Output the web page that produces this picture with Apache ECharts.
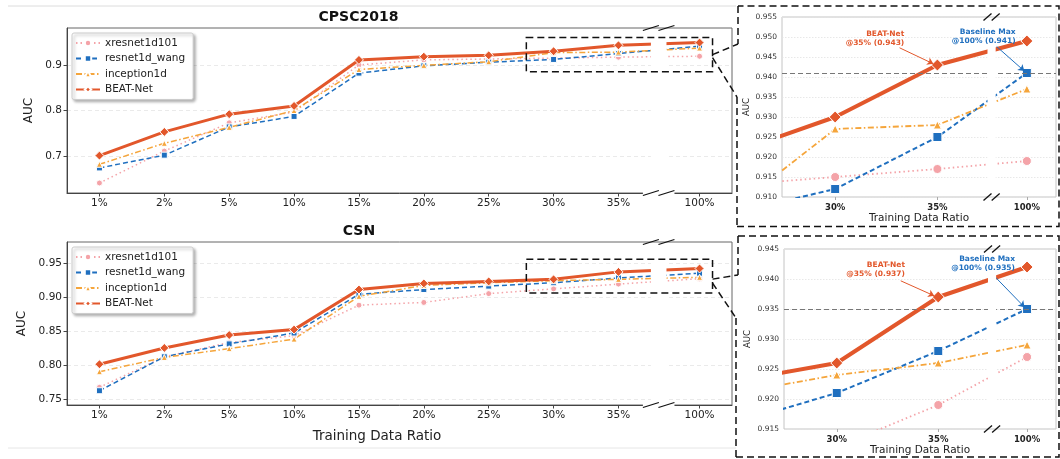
<!DOCTYPE html>
<html><head><meta charset="utf-8">
<script src="https://cdn.jsdelivr.net/npm/echarts@6/dist/echarts.min.js"></script>
<style>html,body{margin:0;padding:0;background:#fff}#c{width:1060px;height:459px}</style>
</head><body><div id="c"></div>
<script>
// ---------- data ----------
const ratioLabels = ['1%','2%','5%','10%','15%','20%','25%','30%','35%','100%'];
const ratioPositions = [0,1,2,3,4,5,6,7,8,9.25];
const insetFrom = 6; // insets show 25%..100% (25% falls left of the view)
const insetPositions = [-1,0,1,1.875];
const modelNames = ['xresnet1d101','resnet1d_wang','inception1d','BEAT-Net'];

const cpscXresnet   = [0.641,0.711,0.773,0.797,0.900,0.911,0.913,0.915,0.917,0.919];
const cpscResnet    = [0.674,0.702,0.764,0.787,0.882,0.898,0.906,0.912,0.925,0.941];
const cpscInception = [0.682,0.728,0.763,0.800,0.890,0.899,0.907,0.927,0.928,0.937];
const cpscBeat      = [0.701,0.753,0.792,0.810,0.911,0.918,0.921,0.930,0.943,0.949];

const csnXresnet    = [0.767,0.812,0.833,0.843,0.888,0.892,0.905,0.912,0.919,0.927];
const csnResnet     = [0.762,0.812,0.831,0.847,0.904,0.911,0.916,0.921,0.928,0.935];
const csnInception  = [0.790,0.811,0.824,0.838,0.901,0.917,0.921,0.924,0.926,0.929];
const csnBeat       = [0.801,0.825,0.844,0.852,0.911,0.920,0.923,0.926,0.937,0.942];

const cpscTicks = [0.7,0.8,0.9];
const csnTicks = [0.75,0.80,0.85,0.90,0.95];
const cpscInsetTicks = [0.910,0.915,0.920,0.925,0.930,0.935,0.940,0.945,0.950,0.955];
const csnInsetTicks = [0.915,0.920,0.925,0.930,0.935,0.940,0.945];

// ---------- style ----------
const FONT = 'DejaVu Sans';
const styles = {
  'xresnet1d101': {color:'#F4A3A8', dash:[1.5,3], w:1.5, wI:1.8, symbol:'circle', size:6, sizeI:9, z:3},
  'resnet1d_wang': {color:'#1F6FBF', dash:[5,3], w:1.5, wI:2, symbol:'rect', size:6, sizeI:9, z:3},
  'inception1d': {color:'#F5A53B', dash:[6,2.5,1.5,2.5], w:1.5, wI:1.8, symbol:'triangle', size:6, sizeI:8, z:3},
  'BEAT-Net': {color:'#E2572B', dash:'solid', w:3, wI:4, symbol:'diamond', size:9, sizeI:12, z:4}
};

const chart = echarts.init(document.getElementById('c'));

function pairs(pos, arr){ return pos.map((p,i)=>[p, arr[i]]); }
function labelFor(pos, labels){ return v => { const i = pos.findIndex(p=>Math.abs(p-v)<1e-6); return i>=0?labels[i]:''; }; }

function mk(name, values, g, inset, extra){
  const st = styles[name];
  const data = inset ? pairs(insetPositions, values.slice(insetFrom)) : pairs(ratioPositions, values);
  return Object.assign({
    name, type:'line', xAxisIndex:g, yAxisIndex:g, data,
    symbol:st.symbol, symbolSize: inset?st.sizeI:st.size, showAllSymbol:true,
    lineStyle:{color:st.color, width: inset?st.wI:st.w, type:st.dash},
    itemStyle:{color:st.color, borderColor:'#fff', borderWidth:1},
    z:st.z, clip:true, silent:true
  }, extra||{});
}

function renderBreak(params, api){
  const cs = params.coordSys;
  const x0 = api.coord([api.value(0), 0])[0];
  const x1 = api.coord([api.value(1), 0])[0];
  const hw = api.value(2), hh = api.value(3);
  const top = cs.y, bot = cs.y + cs.height;
  const ch = [{type:'rect', shape:{x:x0, y:top+1, width:x1-x0, height:cs.height-2}, style:{fill:'#fff'}}];
  if (hw > 5) ch.push({type:'rect', shape:{x:x0-hw, y:bot-1.5, width:x1-x0+2*hw, height:3}, style:{fill:'#fff'}});
  [top, bot].forEach(yy => [x0, x1].forEach(xx => ch.push({type:'line',
    shape:{x1:xx-hw, y1:yy+hh, x2:xx+hw, y2:yy-hh}, style:{stroke:'#111', lineWidth:1.3}})));
  return {type:'group', children:ch};
}
function breakSeries(g, s, e, hw, hh){
  return {type:'custom', xAxisIndex:g, yAxisIndex:g, data:[[s,e,hw,hh]], renderItem:renderBreak, z:6, clip:false, silent:true};
}

function legendCfg(top){
  return {orient:'vertical', left:72, top, data:modelNames, itemWidth:24, itemHeight:8, itemGap:1.5,
    padding:[3,8,3,3], borderColor:'#ccc', borderWidth:1, borderRadius:2, backgroundColor:'#fff',
    shadowColor:'rgba(0,0,0,0.3)', shadowBlur:3, shadowOffsetX:2, shadowOffsetY:2,
    textStyle:{fontSize:10.5, color:'#222', fontFamily:FONT, lineHeight:14}, selectedMode:false};
}
function mainX(g){
  return {type:'value', gridIndex:g, min:-0.5, max:9.75,
    axisLine:{show:true, onZero:false, lineStyle:{color:'#444'}},
    axisTick:{show:true, customValues:ratioPositions, length:3.5, lineStyle:{color:'#444'}},
    axisLabel:{customValues:ratioPositions, formatter:labelFor(ratioPositions, ratioLabels), fontSize:10.5, color:'#222', margin:5, fontFamily:FONT},
    splitLine:{show:false}};
}
function mainY(g, min, max, ticks, dec, gap){
  return {type:'value', gridIndex:g, min, max,
    axisLine:{show:true, onZero:false, lineStyle:{color:'#444'}},
    axisTick:{show:true, customValues:ticks, length:3.5, lineStyle:{color:'#444'}},
    axisLabel:{customValues:ticks, formatter:v=>v.toFixed(dec), fontSize:10.5, color:'#222', margin:5, fontFamily:FONT},
    splitLine:{show:true, lineStyle:{color:'#e4e4e4', type:[4,3], width:0.8}},
    name:'AUC', nameLocation:'middle', nameGap:gap, nameTextStyle:{fontSize:12, color:'#222', fontFamily:FONT}};
}
const insetTickPos = insetPositions.slice(1);
const insetTickLab = ratioLabels.slice(insetFrom+1);
function insetX(g, gap){
  return {type:'value', gridIndex:g, min:-0.52, max:2.16,
    axisLine:{show:false, onZero:false},
    axisTick:{show:true, customValues:insetTickPos, length:3, lineStyle:{color:'#aaa'}},
    axisLabel:{customValues:insetTickPos, formatter:labelFor(insetTickPos, insetTickLab), fontSize:8.5, fontWeight:'bold', color:'#222', margin:6, fontFamily:FONT},
    splitLine:{show:false},
    name:'Training Data Ratio', nameLocation:'middle', nameGap:gap, nameTextStyle:{fontSize:10.5, color:'#222', fontFamily:FONT}};
}
function insetY(g, ticks, gap){
  return {type:'value', gridIndex:g, min:ticks[0], max:ticks[ticks.length-1],
    axisLine:{show:false, onZero:false},
    axisTick:{show:false, customValues:ticks},
    axisLabel:{customValues:ticks, formatter:v=>v.toFixed(3), fontSize:7.5, color:'#333', margin:5, fontFamily:FONT},
    splitLine:{show:true, lineStyle:{color:'#e2e2e2', type:[1.5,1.5], width:0.8}},
    name:'AUC', nameLocation:'middle', nameGap:gap, nameTextStyle:{fontSize:8.5, color:'#222', fontFamily:FONT}};
}

const cpscBase = Math.max(cpscXresnet[9], cpscResnet[9], cpscInception[9]);
const csnBase = Math.max(csnXresnet[9], csnResnet[9], csnInception[9]);
const BEATC = styles['BEAT-Net'].color, BLUE = styles['resnet1d_wang'].color;

function baseLine(v){ return {markLine:{silent:true, symbol:'none', precision:4, label:{show:false}, animation:false,
  data:[{yAxis:v}], lineStyle:{color:'#777', type:[5,3], width:1}}}; }
function arrow(color, from, to){ return {markLine:{silent:true, symbol:['none','arrow'], symbolSize:6, precision:4, label:{show:false}, animation:false,
  data:[[{coord:from},{coord:to}]], lineStyle:{color, type:'solid', width:1}}}; }

const series = [
  mk('xresnet1d101', cpscXresnet, 0, false), mk('resnet1d_wang', cpscResnet, 0, false),
  mk('inception1d', cpscInception, 0, false), mk('BEAT-Net', cpscBeat, 0, false),
  mk('xresnet1d101', csnXresnet, 1, false), mk('resnet1d_wang', csnResnet, 1, false),
  mk('inception1d', csnInception, 1, false), mk('BEAT-Net', csnBeat, 1, false),
  mk('xresnet1d101', cpscXresnet, 2, true, baseLine(cpscBase)),
  mk('resnet1d_wang', cpscResnet, 2, true, arrow(BLUE, [1.58,0.9476], [1.85, cpscBase+0.0005])),
  mk('inception1d', cpscInception, 2, true),
  mk('BEAT-Net', cpscBeat, 2, true, arrow(BEATC, [0.63,0.9473], [0.96, cpscBeat[8]+0.0003])),
  mk('xresnet1d101', csnXresnet, 3, true, baseLine(csnBase)),
  mk('resnet1d_wang', csnResnet, 3, true, arrow(BLUE, [1.54,0.9407], [1.85, csnBase+0.0003])),
  mk('inception1d', csnInception, 3, true),
  mk('BEAT-Net', csnBeat, 3, true, arrow(BEATC, [0.63,0.9397], [0.96, csnBeat[8]+0.0002])),
  breakSeries(0, 8.5, 8.74, 8, 2.5), breakSeries(1, 8.5, 8.74, 8, 2.5),
  breakSeries(2, 1.49, 1.57, 4, 3.5), breakSeries(3, 1.49, 1.57, 4, 3.5)
];

const option = {
  animation:false,
  textStyle:{fontFamily:FONT},
  legend:[legendCfg(33), legendCfg(247)],
  grid:[
    {left:67, top:28, width:665, height:165, show:true, borderColor:'#666', borderWidth:1, containLabel:false},
    {left:67, top:242, width:665, height:163, show:true, borderColor:'#666', borderWidth:1, containLabel:false},
    {left:782, top:17, width:274, height:180, show:true, borderColor:'#c4c4c4', borderWidth:1, containLabel:false},
    {left:784, top:249, width:272, height:180, show:true, borderColor:'#c4c4c4', borderWidth:1, containLabel:false}
  ],
  xAxis:[mainX(0), mainX(1), insetX(2,14), insetX(3,15)],
  yAxis:[mainY(0,0.619,0.981,cpscTicks,1,28), mainY(1,0.741,0.981,csnTicks,2,34),
         insetY(2,cpscInsetTicks,30), insetY(3,csnInsetTicks,32)],
  series
};
chart.setOption(option);

// ---------- decorations (zoom boxes, connectors, inset frames, titles, notes) ----------
const P = (g, x, y) => chart.convertToPixel({gridIndex:g}, [x, y]);
const dash = {stroke:'#111', lineWidth:1.5, lineDash:[7,4], fill:null};
const g = [];
function line(x1,y1,x2,y2,st){ g.push({type:'line', shape:{x1,y1,x2,y2}, style:Object.assign({}, st), z:100}); }
function zoomBox(gi, x0, x1, y0, y1){
  const a = P(gi, x0, y1), b = P(gi, x1, y0);
  g.push({type:'rect', shape:{x:a[0], y:a[1], width:b[0]-a[0], height:b[1]-a[1]}, style:Object.assign({}, dash), z:100});
  return {right:b[0], mid:(a[1]+b[1])/2};
}
const zb1 = zoomBox(0, 6.58, 9.45, 0.885, 0.96);
const zb2 = zoomBox(1, 6.58, 9.45, 0.906, 0.9555);
// connectors
line(zb1.right, zb1.mid, 738, 44, dash); line(zb1.right, zb1.mid+3, 737, 97, dash);
line(zb2.right, zb2.mid+3, 738, 275, dash); line(zb2.right, zb2.mid+7, 736, 318, dash);
// inset frames
g.push({type:'polyline', shape:{points:[[737,226.5],[1059,226.5],[1059,6],[738,6]]}, style:Object.assign({}, dash), z:100});
line(738,6,738,44,dash); line(737,97,737,226.5,dash);
g.push({type:'polyline', shape:{points:[[736,457],[1059,457],[1059,236],[738,236]]}, style:Object.assign({}, dash), z:100});
line(738,236,738,275,dash); line(736,318,736,457,dash);
// light figure rules
line(8,6,736,6,{stroke:'#dcdcdc', lineWidth:1}); line(8,448,736,448,{stroke:'#e6e6e6', lineWidth:1});
// titles and main x-axis name
function txt(text, x, y, o){ g.push({type:'text', x, y, z:101, style:Object.assign({text, fontFamily:FONT, align:'center', verticalAlign:'middle', fill:'#111'}, o)}); }
txt('CPSC2018', 358.5, 17.5, {fontSize:14, fontWeight:'bold'});
txt('CSN', 359, 231, {fontSize:14, fontWeight:'bold'});
txt('Training Data Ratio', 377, 436, {fontSize:13.5, fill:'#222'});
// inset notes
function note(gi, x, y, text, color){ const p = P(gi, x, y); txt(text, p[0], p[1], {fontSize:7.5, fontWeight:'bold', fill:color, align:'right', lineHeight:9}); }
note(2, 0.676, 0.9497, 'BEAT-Net\n@35% (' + cpscBeat[8].toFixed(3) + ')', BEATC);
note(2, 1.765, 0.9501, 'Baseline Max\n@100% (' + cpscBase.toFixed(3) + ')', BLUE);
note(3, 0.672, 0.94155, 'BEAT-Net\n@35% (' + csnBeat[8].toFixed(3) + ')', BEATC);
note(3, 1.756, 0.9425, 'Baseline Max\n@100% (' + csnBase.toFixed(3) + ')', BLUE);
chart.setOption({graphic:g});
</script></body></html>
